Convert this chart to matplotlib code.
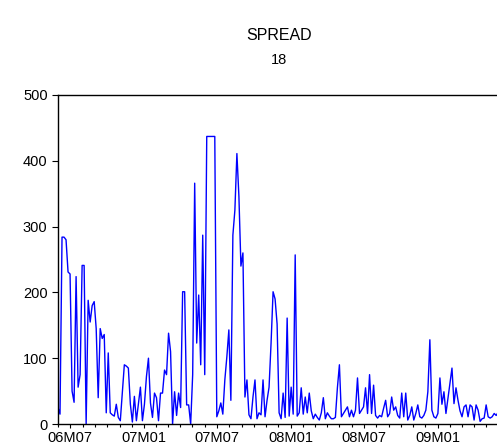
import pandas as pd
import matplotlib
matplotlib.use("Agg")
import matplotlib.pyplot as plt
import matplotlib.dates as mdates

plt.rcParams['font.family'] = ['Liberation Sans', 'DejaVu Sans']

# SPREAD, sampled every 5 days from 2006-06-01
spread_06 = [25, 15, 284, 284, 280, 231, 228, 50, 33, 224, 56, 75, 241, 241, 0,
             188, 155, 180, 186, 145, 40, 145, 130, 136, 17, 108, 17, 14, 12, 30,
             10, 5, 47, 90, 88, 85, 30, 3, 42, 5, 30, 56, 5]
spread_07 = [30, 72, 100, 32, 10, 47, 40, 5, 47, 47, 82, 75, 138, 110, 0,
             49, 13, 47, 25, 201, 201, 29, 29, 0, 75, 366, 123, 196, 90, 287,
             75, 437, 437, 437, 437, 437, 11, 20, 32, 15, 67, 102, 143, 36, 287,
             325, 411, 346, 240, 260, 41, 67, 14, 8, 41, 67, 8, 17, 14, 67,
             11, 36, 56, 123, 201, 190, 152, 17, 8, 47, 10, 161, 12, 56]
spread_08 = [15, 257, 12, 17, 55, 15, 41, 17, 47, 20, 8, 15, 10, 6, 17,
             40, 8, 17, 12, 8, 8, 10, 55, 90, 11, 16, 21, 26, 11, 21,
             11, 21, 70, 16, 21, 26, 55, 16, 75, 16, 59, 13, 9, 13, 11,
             24, 36, 11, 16, 41, 21, 26, 13, 9, 47, 11, 47, 6, 13, 26,
             6, 16, 29, 11, 9, 13, 21, 49, 128, 21, 11, 9]
spread_09 = [16, 70, 30, 49, 16, 39, 62, 85, 31, 55, 36, 20, 11, 26, 29,
             11, 29, 26, 6, 29, 21, 4, 8, 9, 29, 11, 9, 11, 16, 13,
             18, 13, 16]

values = spread_06 + spread_07 + spread_08 + spread_09
dates = pd.date_range("2006-06-01", periods=len(values), freq="5D")

fig = plt.figure(figsize=(4.97, 4.48), dpi=100)
ax = fig.add_axes([58 / 497, 1 - 424 / 448, 1 - 58 / 497, (424 - 95) / 448])

ax.plot(dates, values, color="#0000FF", lw=1.0)

ax.set_ylim(0, 500)
ax.set_yticks([0, 100, 200, 300, 400, 500])
ax.set_xlim(pd.Timestamp("2006-06-01"), pd.Timestamp("2009-05-28"))

ax.xaxis.set_major_locator(mdates.MonthLocator(bymonth=[1, 7]))
ax.xaxis.set_minor_locator(mdates.MonthLocator())
ax.xaxis.set_major_formatter(
    plt.FuncFormatter(lambda v, p: "%02dM%02d" % (mdates.num2date(v).year % 100,
                                                  mdates.num2date(v).month)))

ax.spines['right'].set_visible(False)
for s in ['left', 'bottom', 'top']:
    ax.spines[s].set_linewidth(1.0)
    ax.spines[s].set_color("black")

ax.tick_params(axis='y', length=4.5, width=0.8, pad=3, labelsize=10.5, colors="black")
ax.tick_params(axis='x', which='major', length=3.2, width=0.8, pad=1.5, labelsize=10.5)
ax.tick_params(axis='x', which='minor', length=2.2, width=0.8)

fig.text(0.561, 1 - 35 / 448, "SPREAD", ha="center", va="center", fontsize=11.5)
fig.text(0.561, 1 - 60 / 448, "18", ha="center", va="center", fontsize=10.5)

fig.savefig("out.png", dpi=100)
